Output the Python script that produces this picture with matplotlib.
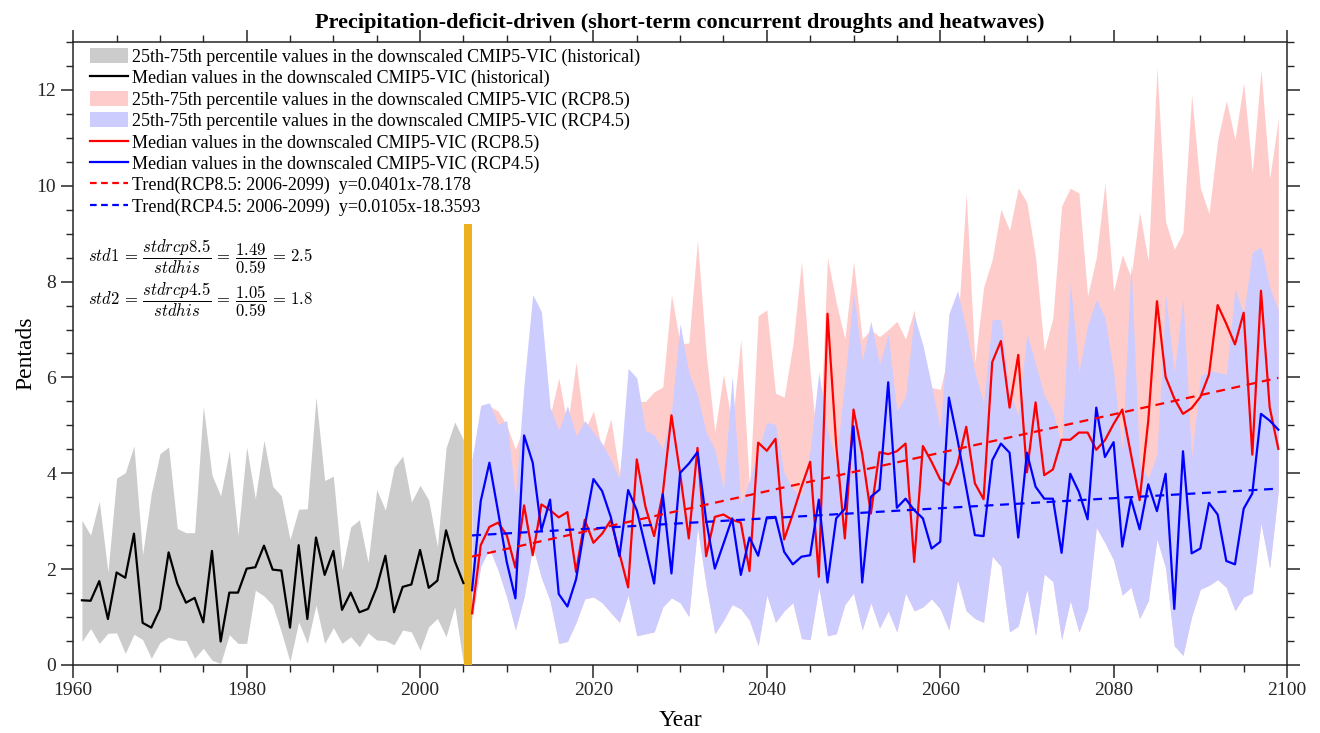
import numpy as np
import matplotlib
matplotlib.use('Agg')
import matplotlib.pyplot as plt
from matplotlib.patches import Patch
from matplotlib.lines import Line2D
from matplotlib.ticker import MultipleLocator

# historical run (1961-2005)
years_hist = np.arange(1961, 2006)
hist_med = [1.35, 1.34, 1.75, 0.96, 1.93, 1.82, 2.74, 0.88, 0.78, 1.17,
            2.35, 1.70, 1.30, 1.40, 0.89, 2.38, 0.49, 1.51, 1.51, 2.01,
            2.04, 2.49, 1.99, 1.97, 0.78, 2.50, 0.96, 2.66, 1.88, 2.38,
            1.15, 1.51, 1.10, 1.17, 1.62, 2.28, 1.10, 1.63, 1.68, 2.40,
            1.61, 1.76, 2.81, 2.17, 1.71]
hist_lo = [0.49, 0.76, 0.45, 0.66, 0.67, 0.24, 0.64, 0.53, 0.14, 0.47,
           0.58, 0.52, 0.51, 0.14, 0.35, 0.10, 0.03, 0.63, 0.45, 0.45,
           1.56, 1.44, 1.25, 0.69, 0.07, 0.90, 0.45, 1.25, 0.45, 0.78,
           0.45, 0.59, 0.38, 0.67, 0.52, 0.51, 0.42, 0.73, 0.69, 0.31,
           0.80, 0.97, 0.59, 1.22, 0.03]
hist_hi = [3.02, 2.71, 3.42, 1.94, 3.90, 4.01, 4.57, 2.30, 3.58, 4.41,
           4.55, 2.85, 2.76, 2.76, 5.40, 3.96, 3.53, 4.47, 2.70, 4.55,
           3.47, 4.69, 3.73, 3.53, 2.62, 3.25, 3.26, 5.59, 3.85, 3.94,
           1.98, 2.88, 3.03, 2.14, 3.66, 3.23, 4.12, 4.36, 3.40, 3.75,
           3.44, 2.47, 4.53, 5.07, 4.70]

# projections (2006-2099)
years_fut = np.arange(2006, 2100)
rcp85_med = [1.08, 2.50, 2.88, 2.97, 2.71, 2.03, 3.33, 2.29, 3.35, 3.23,
             3.08, 3.19, 1.94, 3.03, 2.55, 2.74, 3.02, 2.33, 1.62, 4.29,
             3.30, 2.69, 3.58, 5.21, 3.99, 2.64, 4.53, 2.27, 3.09, 3.14,
             3.03, 2.97, 1.96, 4.64, 4.47, 4.72, 2.62, 3.15, 3.72, 4.24,
             1.84, 7.33, 4.60, 2.64, 5.33, 4.40, 3.16, 4.44, 4.40, 4.46,
             4.62, 2.15, 4.57, 4.24, 3.87, 3.76, 4.19, 4.97, 3.79, 3.46,
             6.32, 6.76, 5.37, 6.47, 4.02, 5.48, 3.96, 4.08, 4.70, 4.70,
             4.85, 4.85, 4.49, 4.69, 5.03, 5.33, 4.40, 3.44, 5.10, 7.59,
             6.01, 5.56, 5.24, 5.36, 5.59, 6.06, 7.51, 7.12, 6.69, 7.35,
             4.39, 7.81, 5.38, 4.51]
rcp45_med = [1.56, 3.42, 4.22, 3.20, 2.15, 1.39, 4.79, 4.22, 2.81, 3.45,
             1.48, 1.22, 1.79, 2.90, 3.88, 3.63, 3.09, 2.27, 3.65, 3.23,
             2.47, 1.70, 3.56, 1.91, 4.01, 4.20, 4.44, 3.02, 2.01, 2.53,
             3.06, 1.88, 2.66, 2.28, 3.08, 3.09, 2.36, 2.10, 2.26, 2.29,
             3.45, 1.72, 3.06, 3.26, 4.98, 1.72, 3.51, 3.66, 5.90, 3.28,
             3.47, 3.23, 3.06, 2.43, 2.57, 5.58, 4.70, 3.70, 2.71, 2.69,
             4.27, 4.62, 4.43, 2.66, 4.43, 3.72, 3.47, 3.47, 2.34, 3.99,
             3.61, 3.04, 5.37, 4.34, 4.65, 2.47, 3.47, 2.83, 3.77, 3.21,
             3.99, 1.17, 4.46, 2.33, 2.43, 3.38, 3.14, 2.17, 2.10, 3.26,
             3.58, 5.24, 5.10, 4.91]
rcp45_lo = [0.94, 2.06, 2.43, 1.98, 1.42, 0.73, 1.42, 2.47, 1.82, 1.34,
            0.45, 0.49, 0.89, 1.38, 1.42, 1.30, 1.09, 0.89, 1.46, 0.61,
            0.65, 0.69, 1.21, 1.40, 1.30, 1.01, 2.87, 1.66, 0.65, 0.93,
            1.26, 1.17, 0.93, 0.40, 1.46, 0.89, 1.13, 1.30, 0.55, 0.53,
            1.62, 0.61, 0.65, 1.26, 1.50, 0.73, 1.30, 0.77, 1.13, 0.69,
            1.50, 1.13, 1.21, 1.38, 1.17, 0.73, 1.78, 1.13, 0.97, 0.89,
            2.27, 2.06, 0.69, 0.81, 1.58, 0.61, 1.90, 1.74, 0.53, 1.34,
            0.69, 1.17, 2.87, 2.55, 2.19, 1.46, 1.62, 0.97, 1.34, 2.63,
            2.02, 0.40, 0.20, 1.01, 1.58, 1.66, 1.78, 1.62, 1.13, 1.42,
            1.50, 2.96, 2.02, 3.64]
rcp45_hi = [4.30, 5.42, 5.47, 5.02, 5.10, 3.50, 5.87, 7.73, 7.37, 5.38,
            4.90, 5.41, 4.78, 5.10, 4.86, 4.62, 4.29, 3.89, 6.19, 5.99,
            4.90, 4.80, 4.50, 5.30, 7.12, 6.11, 5.63, 4.86, 4.50, 3.68,
            6.03, 3.36, 3.85, 4.49, 5.06, 5.02, 4.00, 3.68, 3.52, 4.49,
            6.11, 4.90, 4.25, 5.95, 7.77, 6.36, 7.17, 6.28, 6.90, 5.30,
            5.60, 7.29, 6.68, 5.83, 4.94, 7.33, 7.81, 7.00, 6.11, 5.47,
            7.21, 7.21, 5.71, 5.22, 6.92, 6.28, 5.63, 5.30, 4.57, 7.98,
            6.11, 7.09, 7.63, 7.25, 6.11, 4.49, 8.38, 4.20, 3.90, 4.40,
            7.73, 6.11, 7.65, 4.33, 6.03, 6.15, 6.11, 6.07, 7.85, 7.33,
            8.62, 8.72, 7.89, 7.41]
# RCP8.5 75th percentile (its 25th percentile lies under the RCP4.5 band)
rcp85_hi = [4.30, 5.20, 5.40, 5.30, 5.00, 4.50, 5.00, 7.00, 6.50, 5.20,
            5.99, 5.00, 6.32, 4.90, 5.30, 4.50, 5.14, 4.00, 5.50, 5.50,
            5.50, 5.70, 5.80, 7.73, 6.70, 6.72, 8.87, 6.50, 4.86, 6.07,
            5.00, 6.80, 3.68, 7.29, 7.41, 5.67, 5.59, 6.68, 8.42, 6.11,
            4.25, 8.50, 7.57, 6.80, 8.42, 6.80, 7.00, 6.85, 7.00, 7.17,
            6.80, 7.41, 6.00, 5.79, 5.75, 6.50, 7.00, 9.84, 6.30, 7.88,
            8.46, 9.51, 9.07, 9.96, 9.65, 8.50, 6.56, 7.25, 9.58, 9.95,
            9.85, 7.70, 8.50, 10.05, 7.80, 8.56, 8.10, 9.45, 8.43, 12.47,
            9.25, 8.67, 9.03, 11.90, 9.96, 9.42, 10.95, 11.78, 10.97, 12.15,
            10.28, 12.42, 10.15, 11.40]

# linear trends from the legend: slope, intercept
trend85 = [0.0401, -78.178]
trend45 = [0.0105, -18.3593]
trend_years = [2006, 2099]

std_lines = [r'$std1\,=\,\dfrac{stdrcp8.5}{stdhis}\,=\,\dfrac{1.49}{0.59}\,=\,2.5$',
             r'$std2\,=\,\dfrac{stdrcp4.5}{stdhis}\,=\,\dfrac{1.05}{0.59}\,=\,1.8$']

c_gray = '#cccccc'
c_pink = '#ffcccc'
c_lav = '#ccccff'
c_bar = '#edb120'


def main():
    plt.rcParams['font.family'] = 'Liberation Serif'
    plt.rcParams['mathtext.fontset'] = 'cm'

    fig = plt.figure(figsize=(13.2, 7.33), dpi=100)
    ax = fig.add_axes([0.0555, 0.0928, 0.9195, 0.8499])

    ax.fill_between(years_hist, hist_lo, hist_hi, color=c_gray, lw=0, zorder=1)
    ax.plot(years_hist, hist_med, color='k', lw=1.6, zorder=4)

    ax.fill_between(years_fut, rcp45_lo, rcp85_hi, color=c_pink, lw=0, zorder=1)
    ax.fill_between(years_fut, rcp45_lo, rcp45_hi, color=c_lav, lw=0, zorder=2)

    ax.bar(2005.5, 9.2, width=0.9, color=c_bar, zorder=3)

    ax.plot(years_fut, rcp85_med, color='r', lw=1.6, zorder=4)
    ax.plot(years_fut, rcp45_med, color='b', lw=1.6, zorder=5)

    ty = np.array(trend_years)
    ax.plot(ty, trend85[0] * ty + trend85[1], color='r', lw=1.6,
            dashes=(4, 3), zorder=6)
    ax.plot(ty, trend45[0] * ty + trend45[1], color='b', lw=1.6,
            dashes=(4, 3), zorder=6)

    handles = [Patch(facecolor=c_gray, edgecolor='none'),
               Line2D([], [], color='k', lw=1.6),
               Patch(facecolor=c_pink, edgecolor='none'),
               Patch(facecolor=c_lav, edgecolor='none'),
               Line2D([], [], color='r', lw=1.6),
               Line2D([], [], color='b', lw=1.6),
               Line2D([], [], color='r', lw=1.6, dashes=(3, 2)),
               Line2D([], [], color='b', lw=1.6, dashes=(3, 2))]
    labels = ['25th-75th percentile values in the downscaled CMIP5-VIC (historical)',
              'Median values in the downscaled CMIP5-VIC (historical)',
              '25th-75th percentile values in the downscaled CMIP5-VIC (RCP8.5)',
              '25th-75th percentile values in the downscaled CMIP5-VIC (RCP4.5)',
              'Median values in the downscaled CMIP5-VIC (RCP8.5)',
              'Median values in the downscaled CMIP5-VIC (RCP4.5)',
              'Trend(RCP8.5: 2006-2099)  y=0.0401x-78.178',
              'Trend(RCP4.5: 2006-2099)  y=0.0105x-18.3593']
    ax.legend(handles, labels, loc='upper left', bbox_to_anchor=(0.014, 0.99),
              frameon=False, fontsize=13, handlelength=2.1, handleheight=0.9,
              handletextpad=0.2, labelspacing=0.2, borderpad=0, borderaxespad=0)

    ax.text(0.012, 0.655, std_lines[0], transform=ax.transAxes, fontsize=12,
            va='center', ha='left')
    ax.text(0.012, 0.586, std_lines[1], transform=ax.transAxes, fontsize=12,
            va='center', ha='left')

    ax.set_xlim(1960, 2100)
    ax.set_ylim(0, 13)
    ax.xaxis.set_major_locator(MultipleLocator(20))
    ax.xaxis.set_minor_locator(MultipleLocator(5))
    ax.yaxis.set_major_locator(MultipleLocator(2))
    ax.yaxis.set_minor_locator(MultipleLocator(0.5))
    ax.tick_params(which='both', direction='out', top=True, right=True,
                   labelsize=14, colors='#262626')
    ax.tick_params(which='major', length=9, width=1.1)
    ax.tick_params(which='minor', length=5, width=1.0)
    for s in ax.spines.values():
        s.set_linewidth(1.1)
        s.set_color('#262626')

    ax.set_xlabel('Year', fontsize=17, labelpad=8)
    ax.set_ylabel('Pentads', fontsize=17, labelpad=0)
    ax.set_title('Precipitation-deficit-driven (short-term concurrent droughts and heatwaves)',
                 fontsize=16, fontweight='bold', pad=10)

    fig.savefig('out.png', dpi=100)


if __name__ == "__main__":
    main()
